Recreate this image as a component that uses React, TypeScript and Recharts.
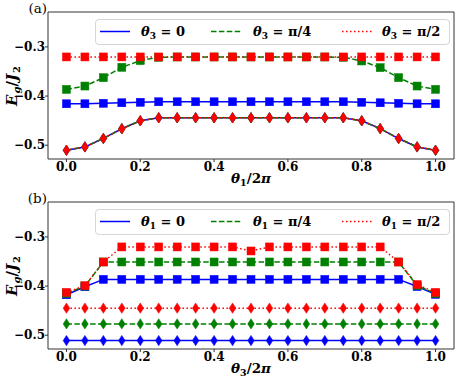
import React from 'react';
import { LineChart, Line, XAxis, YAxis, Legend } from 'recharts';

// ---------- data ----------
const THETA = [0.0, 0.05, 0.1, 0.15, 0.2, 0.25, 0.3, 0.35, 0.4, 0.45, 0.5, 0.55, 0.6, 0.65, 0.7, 0.75, 0.8, 0.85, 0.9, 0.95, 1.0];

// panel (a): x = theta1/2pi, series theta3 = 0, pi/4, pi/2
const A_SQ_0 = [-0.4157, -0.4157, -0.4147, -0.4136, -0.4126, -0.4116, -0.4116, -0.4116, -0.4116, -0.4116, -0.4116, -0.4116, -0.4116, -0.4116, -0.4116, -0.4116, -0.4126, -0.4136, -0.4147, -0.4157, -0.4157];
const A_SQ_PI4 = [-0.3864, -0.3796, -0.3626, -0.3415, -0.3279, -0.3211, -0.3205, -0.3205, -0.3205, -0.3205, -0.3205, -0.3205, -0.3205, -0.3205, -0.3205, -0.3211, -0.3286, -0.3422, -0.3626, -0.3796, -0.3864];
const A_SQ_PI2 = [-0.3204, -0.3204, -0.3204, -0.3204, -0.3204, -0.3204, -0.3204, -0.3204, -0.3204, -0.3204, -0.3204, -0.3204, -0.3204, -0.3204, -0.3204, -0.3204, -0.3204, -0.3204, -0.3204, -0.3204, -0.3204];
const A_DI_0 = [-0.5102, -0.5034, -0.4862, -0.4664, -0.4503, -0.4442, -0.4442, -0.4442, -0.4442, -0.4442, -0.4442, -0.4442, -0.4442, -0.4442, -0.4442, -0.4442, -0.4503, -0.4662, -0.4864, -0.5034, -0.5102];
const A_DI_PI4 = [-0.5102, -0.5034, -0.4862, -0.4664, -0.4503, -0.4442, -0.4442, -0.4442, -0.4442, -0.4442, -0.4442, -0.4442, -0.4442, -0.4442, -0.4442, -0.4442, -0.4503, -0.4662, -0.4864, -0.5034, -0.5102];
const A_DI_PI2 = [-0.5102, -0.5034, -0.4862, -0.4664, -0.4503, -0.4442, -0.4442, -0.4442, -0.4442, -0.4442, -0.4442, -0.4442, -0.4442, -0.4442, -0.4442, -0.4442, -0.4503, -0.4662, -0.4864, -0.5034, -0.5102];

// panel (b): x = theta3/2pi, series theta1 = 0, pi/4, pi/2
const B_SQ_0 = [-0.4177, -0.4014, -0.3864, -0.3864, -0.3864, -0.3864, -0.3864, -0.3864, -0.3864, -0.3864, -0.3864, -0.3864, -0.3864, -0.3864, -0.3864, -0.3864, -0.3864, -0.3864, -0.3864, -0.4010, -0.4170];
const B_SQ_PI4 = [-0.4150, -0.4000, -0.3510, -0.3510, -0.3510, -0.3510, -0.3510, -0.3510, -0.3510, -0.3510, -0.3510, -0.3510, -0.3510, -0.3510, -0.3510, -0.3510, -0.3510, -0.3510, -0.3510, -0.3990, -0.4150];
const B_SQ_PI2 = [-0.4129, -0.3993, -0.3510, -0.3204, -0.3204, -0.3204, -0.3204, -0.3204, -0.3204, -0.3204, -0.3286, -0.3204, -0.3204, -0.3204, -0.3204, -0.3204, -0.3204, -0.3204, -0.3510, -0.3970, -0.4129];
const B_DI_0 = [-0.5109, -0.5109, -0.5109, -0.5109, -0.5109, -0.5109, -0.5109, -0.5109, -0.5109, -0.5109, -0.5109, -0.5109, -0.5109, -0.5109, -0.5109, -0.5109, -0.5109, -0.5109, -0.5109, -0.5109, -0.5109];
const B_DI_PI4 = [-0.4769, -0.4769, -0.4769, -0.4769, -0.4769, -0.4769, -0.4769, -0.4769, -0.4769, -0.4769, -0.4769, -0.4769, -0.4769, -0.4769, -0.4769, -0.4769, -0.4769, -0.4769, -0.4769, -0.4769, -0.4769];
const B_DI_PI2 = [-0.4449, -0.4449, -0.4449, -0.4449, -0.4449, -0.4449, -0.4449, -0.4449, -0.4449, -0.4449, -0.4449, -0.4449, -0.4449, -0.4449, -0.4449, -0.4449, -0.4449, -0.4449, -0.4449, -0.4449, -0.4449];

const X_TICKS = [0.0, 0.2, 0.4, 0.6, 0.8, 1.0];
const Y_TICKS = [-0.5, -0.4, -0.3];
const X_DOMAIN = [-0.05, 1.05];
const Y_DOMAIN = [-0.528, -0.229];
const LEGEND_VALUES = ['0', 'π/4', 'π/2'];

// ---------- styles ----------
const FONT = '"DejaVu Serif", "Liberation Serif", serif';
const COLORS = ['#0000ff', '#008000', '#ff0000'];
const DASHES = [undefined, '5.5 2.4', '1.5 2.5'];
const FRAME = '#333333';

const buildRows = (sq: number[][], di: number[][]) =>
  THETA.map((x, i) => ({
    x,
    sq0: sq[0][i], sq1: sq[1][i], sq2: sq[2][i],
    di0: di[0][i], di1: di[1][i], di2: di[2][i],
  }));

const squareDot = (color: string) => (p: any) => {
  const s = 8;
  return <rect key={`s${p.index}`} x={p.cx - s / 2} y={p.cy - s / 2} width={s} height={s} fill={color} stroke={color} strokeWidth={0.5} />;
};
const diamondDot = (color: string) => (p: any) => {
  const w = 3.3, h = 5.2;
  return (
    <path key={`d${p.index}`} d={`M${p.cx},${p.cy - h}L${p.cx + w},${p.cy}L${p.cx},${p.cy + h}L${p.cx - w},${p.cy}Z`} fill={color} stroke={color} strokeWidth={0.5} />
  );
};

const fmt = (v: number) => v.toFixed(1).replace('-', '\u2212');
const tickStyle = { fontFamily: FONT, fontWeight: 'bold', fontSize: 12, fill: '#000' };

const ThetaSym = ({ sub }: { sub: string }) => (
  <span>
    <span style={{ fontStyle: 'italic' }}>θ</span>
    <span style={{ fontSize: 9, position: 'relative', top: 3 }}>{sub}</span>
  </span>
);

const LegendBox = ({ sub }: { sub: string }) => {
  const handleX = [4, 115, 246];
  const textX = [45, 157, 286];
  return (
    <div style={{ position: 'relative', width: 355, height: 26, boxSizing: 'border-box', border: '1px solid #d6d6d6', borderRadius: 4, background: 'rgba(255,255,255,0.85)' }}>
      {LEGEND_VALUES.map((v, i) => (
        <React.Fragment key={i}>
          <svg style={{ position: 'absolute', left: handleX[i], top: 0 }} width={31} height={24}>
            <line x1={0} y1={11.5} x2={30} y2={11.5} stroke={COLORS[i]} strokeWidth={1.5} strokeDasharray={DASHES[i]} />
          </svg>
          <div style={{ position: 'absolute', left: textX[i], top: 4, fontFamily: FONT, fontWeight: 'bold', fontSize: 13, lineHeight: '15px', whiteSpace: 'nowrap', color: '#000' }}>
            <ThetaSym sub={sub} /> = {v}
          </div>
        </React.Fragment>
      ))}
    </div>
  );
};

const YTitle = () => (
  <text transform="translate(17,86) rotate(-90)" textAnchor="middle" fill="#000" fontFamily={FONT} fontWeight="bold" fontStyle="italic" fontSize={15}>
    <tspan>E</tspan>
    <tspan fontSize="10" dx="1" dy="3">g</tspan>
    <tspan dy="-3" fontStyle="normal">/</tspan>
    <tspan>J</tspan>
    <tspan fontSize="10" dx="1" dy="3" fontStyle="normal">2</tspan>
  </text>
);

const XTitle = ({ sub }: { sub: string }) => (
  <text x={251} y={183} textAnchor="middle" fill="#000" fontFamily={FONT} fontWeight="bold" fontSize={13.5}>
    <tspan fontStyle="italic">θ</tspan>
    <tspan fontSize="9.5" dy="3">{sub}</tspan>
    <tspan dy="-3">/2</tspan>
    <tspan fontStyle="italic">π</tspan>
  </text>
);

const PanelTag = ({ tag }: { tag: string }) => (
  <text x={47} y={13} textAnchor="end" fill="#000" fontFamily={FONT} fontSize={13.5}>{tag}</text>
);

const Panel = ({ tag, rows, xsub, lsub }: { tag: string; rows: any[]; xsub: string; lsub: string }) => (
  <LineChart width={458} height={190} data={rows} margin={{ top: 11, right: 3, bottom: 0, left: 0 }}>
    <XAxis dataKey="x" type="number" domain={X_DOMAIN} ticks={X_TICKS} tickFormatter={fmt} tick={tickStyle}
      tickSize={3} tickMargin={0} height={31} stroke={FRAME} allowDataOverflow interval={0}
      label={<XTitle sub={xsub} />} />
    <XAxis xAxisId="top" orientation="top" dataKey="x" type="number" domain={X_DOMAIN} tick={false} tickLine={false}
      height={1} stroke={FRAME} allowDataOverflow label={<PanelTag tag={tag} />} />
    <YAxis type="number" domain={Y_DOMAIN} ticks={Y_TICKS} tickFormatter={fmt} tick={tickStyle}
      tickSize={3} tickMargin={0} width={48} stroke={FRAME} allowDataOverflow interval={0}
      label={<YTitle />} />
    <YAxis yAxisId="right" orientation="right" type="number" domain={Y_DOMAIN} tick={false} tickLine={false}
      width={1} stroke={FRAME} allowDataOverflow />
    <Legend layout="horizontal" verticalAlign="middle" align="center"
      wrapperStyle={{ left: 95, top: 19, width: 355, height: 26 }}
      content={() => <LegendBox sub={lsub} />} />
    {[0, 1, 2].map((k) => [
      <Line key={`sq${k}`} dataKey={`sq${k}`} type="linear" stroke={COLORS[k]} strokeWidth={1.5}
        strokeDasharray={DASHES[k]} dot={squareDot(COLORS[k])} activeDot={false} isAnimationActive={false} />,
      <Line key={`di${k}`} dataKey={`di${k}`} type="linear" stroke={COLORS[k]} strokeWidth={1.5}
        strokeDasharray={DASHES[k]} dot={diamondDot(COLORS[k])} activeDot={false} isAnimationActive={false} legendType="none" />,
    ])}
  </LineChart>
);

export default function App() {
  const rowsA = buildRows([A_SQ_0, A_SQ_PI4, A_SQ_PI2], [A_DI_0, A_DI_PI4, A_DI_PI2]);
  const rowsB = buildRows([B_SQ_0, B_SQ_PI4, B_SQ_PI2], [B_DI_0, B_DI_PI4, B_DI_PI2]);
  return (
    <div style={{ position: 'absolute', left: 0, top: 0, width: 458, height: 380, background: '#fff' }}>
      <Panel tag="(a)" rows={rowsA} xsub="1" lsub="3" />
      <Panel tag="(b)" rows={rowsB} xsub="3" lsub="1" />
    </div>
  );
}
